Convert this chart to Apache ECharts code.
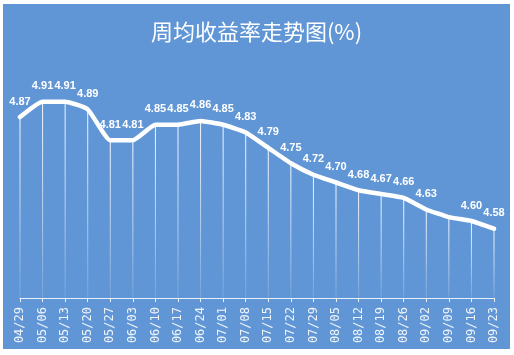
<!DOCTYPE html>
<html><head><meta charset="utf-8">
<script src="https://cdn.jsdelivr.net/npm/echarts@6/dist/echarts.min.js"></script>
<style>html,body{margin:0;padding:0;background:#fff;}#c{position:absolute;left:3px;top:4px;width:507px;height:345px;}</style>
</head><body><div id="c"></div>
<script>
var categories = ['04/29','05/06','05/13','05/20','05/27','06/03','06/10','06/17','06/24','07/01','07/08','07/15','07/22','07/29','08/05','08/12','08/19','08/26','09/02','09/09','09/16','09/23'];
var values = [4.87,4.91,4.91,4.89,4.81,4.81,4.85,4.85,4.86,4.85,4.83,4.79,4.75,4.72,4.70,4.68,4.67,4.66,4.63,4.61,4.60,4.58];
var hiddenLabels = ['09/09'];
var titleText = '周均收益率走势图(%)';

var lineData = values.map(function(v,i){
  var d = {value: v};
  if (hiddenLabels.indexOf(categories[i]) >= 0) d.label = {show:false};
  return d;
});
var chart = echarts.init(document.getElementById('c'));
chart.setOption({
  backgroundColor: '#6196D6',
  animation: false,
  title: {text: titleText, left: 'center', top: 12,
    textStyle: {color: '#fff', fontSize: 22, fontWeight: 'normal', fontFamily: 'Noto Sans CJK SC'}},
  grid: {left: 17, right: 16, top: 63, bottom: 51},
  xAxis: {type: 'category', data: categories, boundaryGap: false,
    axisLine: {lineStyle: {color: 'rgba(255,255,255,0.85)', width: 1}},
    axisTick: {show: true, length: 4, alignWithLabel: true, lineStyle: {color: 'rgba(255,255,255,0.85)'}},
    axisLabel: {rotate: 90, margin: 9, color: 'rgba(255,255,255,0.9)', fontSize: 12, fontFamily: 'DejaVu Sans Mono', interval: 0},
    splitLine: {show: false}},
  yAxis: {type: 'value', min: 4.4, max: 5.0, show: false, splitLine: {show: false}},
  series: [
    {type: 'bar', data: values, barWidth: 1, silent: true,
      itemStyle: {color: new echarts.graphic.LinearGradient(0,0,0,1,[
        {offset:0,color:'rgba(255,255,255,0.95)'},{offset:0.6,color:'rgba(255,255,255,0.5)'},{offset:1,color:'rgba(255,255,255,0.12)'}])}},
    {type: 'line', data: lineData, smooth: 0.15, symbol: 'circle', symbolSize: 2, showSymbol: true,
      itemStyle: {color: '#fff'},
      lineStyle: {color: '#fff', width: 4.5, cap: 'round', join: 'round'},
      label: {show: true, position: 'top', distance: 9, color: '#fff', fontSize: 11, fontWeight: 'bold', fontFamily: 'Liberation Sans',
        formatter: function(p){return p.value.toFixed(2);}}}
  ]
});
</script></body></html>
